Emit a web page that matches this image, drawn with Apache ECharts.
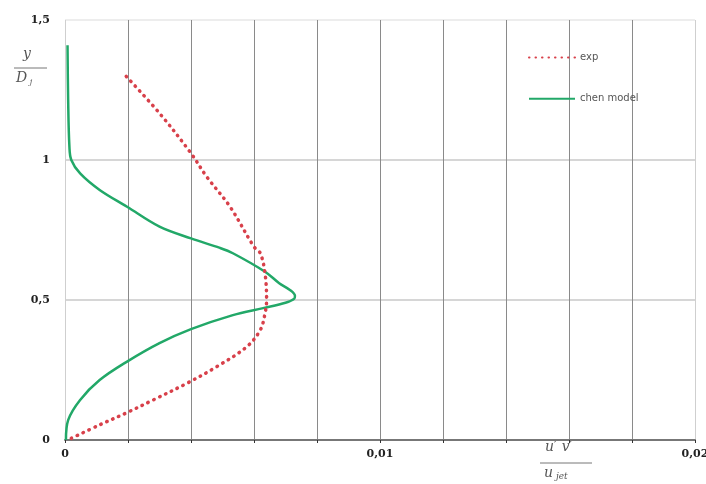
<!DOCTYPE html>
<html>
<head>
<meta charset="utf-8">
<script src="https://cdn.jsdelivr.net/npm/echarts@6/dist/echarts.min.js"></script>
<style>html,body{margin:0;padding:0;background:#fff;}#c{width:706px;height:484px;}</style>
</head>
<body>
<div id="c"></div>
<script>
// exp data (x = u'v'/u_jet^2, y = y/Dj)
var expX = [0.0002,0.0011,0.00197,0.0028,0.00386,0.00482,0.00577,0.0062,0.00635,0.0064,0.00635,0.0062,0.006,0.00524,0.0045,0.004,0.003,0.0019];
var expY = [0.006,0.054,0.098,0.143,0.202,0.262,0.333,0.393,0.452,0.5,0.595,0.667,0.69,0.833,0.94,1.024,1.167,1.304];
// chen model
var chenX = [0.00003,0.0001,0.00048,0.0011,0.00197,0.003,0.004,0.00533,0.00629,0.0070,0.00728,0.0073,0.00714,0.0068,0.00635,0.00533,0.00492,0.004,0.003,0.00197,0.0011,0.00048,0.0002,0.00014,0.0001,0.00008];
var chenY = [0,0.071,0.143,0.214,0.28,0.346,0.396,0.446,0.471,0.49,0.505,0.515,0.536,0.56,0.601,0.667,0.686,0.72,0.762,0.833,0.893,0.952,1.0,1.048,1.214,1.41];
var xTickLabels = {'0':'0','0.01':'0,01','0.02':'0,02'};
var yTickLabels = {'0':'0','0.5':'0,5','1':'1','1.5':'1,5'};

function pairs(xs, ys){ return xs.map(function(v,i){return [v, ys[i]];}); }

var chart = echarts.init(document.getElementById('c'));
var labelFont = {color:'#222', fontFamily:'DejaVu Serif', fontWeight:'bold', fontSize:11};
var vGrid = ['#cfcfcf','#8a8a8a','#8a8a8a','#8a8a8a','#8a8a8a','#8a8a8a','#8a8a8a','#8a8a8a','#8a8a8a','#8a8a8a','#cfcfcf'];
chart.setOption({
  animation:false,
  grid:{left:65, right:11, top:20, bottom:44, outerBoundsMode:'none', containLabel:false},
  legend:{
    orient:'vertical', left:523, top:47, itemGap:30, itemWidth:46, itemHeight:14,
    itemStyle:{opacity:0},
    textStyle:{color:'#555', fontSize:10, fontFamily:'DejaVu Sans'},
    data:['exp','chen model']
  },
  xAxis:{
    type:'value', min:0, max:0.02, interval:0.002,
    axisLine:{show:true, onZero:false, lineStyle:{color:'#777', width:2}},
    axisTick:{show:true, length:3, lineStyle:{color:'#333', width:1}},
    axisLabel:Object.assign({margin:9, showMaxLabel:true, formatter:function(v){
      var k = String(Math.round(v*1000)/1000); return xTickLabels[k] || '';
    }}, labelFont),
    splitLine:{show:true, lineStyle:{color:vGrid, width:1}}
  },
  yAxis:{
    type:'value', min:0, max:1.5, interval:0.5,
    axisLine:{show:false},
    axisTick:{show:false},
    axisLabel:Object.assign({margin:15, formatter:function(v){
      var k = String(Math.round(v*10)/10); return yTickLabels[k] || '';
    }}, labelFont),
    splitLine:{show:true, lineStyle:{color:['#d6d6d6','#d6d6d6','#d6d6d6','#ededed'], width:2}}
  },
  graphic:[
    {type:'text', left:23, top:47, style:{text:'y', font:'italic 14px DejaVu Serif', fill:'#555'}},
    {type:'line', shape:{x1:14, y1:68, x2:47, y2:68}, style:{stroke:'#777', lineWidth:1}},
    {type:'text', left:16, top:71, style:{rich:{b:{font:'italic 14px DejaVu Serif', fill:'#555'}, s:{font:'italic 8px DejaVu Serif', fill:'#555', padding:[7,0,0,0]}}, text:'{b|D}{s| j}'}},
    {type:'text', left:545, top:440, style:{text:'u\u2032 v\u2032', font:'italic 14px DejaVu Serif', fill:'#555'}},
    {type:'line', shape:{x1:540, y1:463, x2:592, y2:463}, style:{stroke:'#777', lineWidth:1}},
    {type:'text', left:544, top:466, style:{rich:{b:{font:'italic 14px DejaVu Serif', fill:'#555'}, s:{font:'italic 9px DejaVu Serif', fill:'#555', padding:[7,0,0,0]}}, text:'{b|u}{s| jet}'}}
  ],
  series:[
    {name:'exp', type:'line', data:pairs(expX, expY), smooth:0.35, symbol:'none', showSymbol:false,
     lineStyle:{color:'#d8404a', width:3.5, type:[0.5,6], cap:'round'}, itemStyle:{color:'#d8404a'}, z:3},
    {name:'chen model', type:'line', data:pairs(chenX, chenY), smooth:0.35, symbol:'none', showSymbol:false,
     lineStyle:{color:'#22a868', width:2.5}, itemStyle:{color:'#22a868'}, z:2}
  ]
});
</script>
</body>
</html>
